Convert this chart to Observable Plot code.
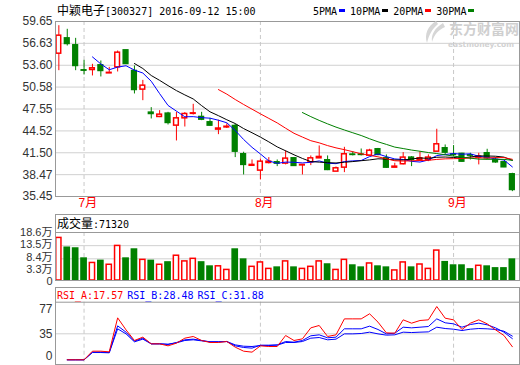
<!DOCTYPE html>
<html><head><meta charset="utf-8">
<script src="https://cdn.jsdelivr.net/npm/d3@7"></script>
<script src="https://cdn.jsdelivr.net/npm/@observablehq/plot@0.6"></script>
<style>
html,body{margin:0;padding:0;background:#fff;}
#wrap{position:relative;width:520px;height:365px;overflow:hidden;}
.abs{position:absolute;white-space:nowrap;line-height:14px;height:14px;}
.m{font-family:"DejaVu Sans Mono",monospace;font-size:10px;}
.c{font-family:"Noto Sans CJK SC",sans-serif;font-size:12px;}
.key{display:inline-block;width:6px;height:3px;margin:0 5px 0 2px;vertical-align:middle;position:relative;top:-1px;}
</style></head><body><div id="wrap"></div>
<script>
// ---------- data ----------
const stockName = "中颖电子", stockCode = "300327", stamp = "2016-09-12 15:00";
const opens  = [55.20,57.32,56.36,52.90,52.94,53.59,52.48,53.31,55.66,52.81,50.23,47.05,46.45,46.91,45.25,46.26,46.88,46.45,45.71,44.70,45.00,45.20,41.29,39.70,39.03,40.09,40.18,40.00,40.73,39.75,40.18,40.73,40.46,38.89,39.44,41.25,41.25,41.10,41.98,40.73,39.44,39.91,40.83,40.50,40.50,41.65,42.12,41.25,41.34,41.15,40.83,41.43,40.50,40.18,38.52];
const closes = [57.69,56.54,53.50,52.85,53.18,52.81,52.55,55.34,53.77,50.18,50.78,46.86,46.77,45.62,46.26,46.86,46.95,46.08,45.25,44.85,45.10,41.65,39.82,39.82,40.27,40.27,40.00,40.69,39.68,39.82,40.73,40.92,39.12,39.35,41.29,41.20,41.20,41.79,41.20,39.44,39.58,40.83,40.50,40.73,40.83,42.67,41.52,41.20,40.27,41.10,40.97,40.73,40.18,39.49,36.35];
const highs  = [59.07,58.57,57.32,54.28,53.73,54.19,53.31,55.57,55.66,53.50,51.51,47.74,47.32,47.09,47.09,47.05,48.20,47.09,46.26,46.00,45.50,45.44,41.57,40.50,40.64,40.83,40.50,41.75,40.80,39.85,41.06,42.44,41.06,39.53,42.25,41.65,42.02,41.98,42.10,41.20,40.05,41.52,40.97,41.65,41.20,44.75,42.58,42.49,41.43,41.43,41.43,41.98,40.83,40.27,38.66];
const lows   = [52.85,56.26,52.85,52.25,52.12,51.98,52.45,52.67,53.77,49.63,48.70,46.17,46.36,45.34,43.13,45.06,46.72,45.94,45.20,44.00,44.85,40.83,38.43,39.68,37.74,39.95,39.58,39.82,39.60,38.43,39.72,40.73,39.03,38.89,38.75,41.06,41.06,40.97,41.10,39.35,39.44,39.82,39.58,40.50,40.27,41.60,41.20,40.97,40.18,40.50,39.82,40.50,40.05,39.44,36.12];
// volume in 万 (10k)
const volumes = [16.5,12.7,12.4,8.5,6.8,7.6,6.1,13.4,8.5,12.0,8.0,7.6,6.1,7.0,9.6,7.4,8.4,7.0,5.4,5.5,4.1,12.0,8.1,5.3,7.0,4.5,5.0,7.4,5.0,4.5,5.3,7.4,6.2,4.1,8.0,5.8,5.0,6.6,5.4,5.0,3.9,7.0,5.0,6.2,4.5,11.6,7.1,5.8,5.8,4.3,5.7,5.4,4.7,4.7,8.1];
const lastVolume = 71320;
const rsiA = [null,0,0,0,11.6,11.6,10.7,56.5,40.3,26.0,30.5,21.5,21.5,18.8,22.4,29.1,31.4,26.0,23.3,23.3,24.6,17.0,11.6,10.3,18.8,17.9,17.9,32.7,26.0,28.2,43.0,46.2,31.4,33.6,55.1,55.1,55.1,61.9,50.7,36.3,35.8,53.8,49.3,52.9,53.8,71.7,56.0,53.8,40.8,49.3,53.8,48.4,40.3,32.7,17.57];
const rsiB = [null,0,0,0,10.3,10.3,9.8,45.7,37.2,25.1,29.1,21.5,21.5,20.6,23.3,26.9,27.8,26.0,24.2,24.2,24.6,18.8,16.6,15.7,19.7,19.7,20.1,24.6,23.7,26.0,32.3,33.6,29.6,30.5,41.7,41.7,41.7,45.3,40.8,34.9,35.8,43.9,43.0,43.9,44.8,55.1,49.8,48.4,43.9,47.5,49.3,47.1,43.0,37.2,28.48];
const rsiC = [null,0,0,0,9.8,9.8,9.4,41.7,34.9,24.2,27.8,21.5,21.5,21.0,22.8,26.0,26.9,25.5,24.2,24.2,24.6,20.1,18.3,17.9,19.2,19.2,19.7,23.3,23.3,24.6,29.1,30.0,26.9,27.8,34.9,34.9,35.4,37.2,34.9,33.2,33.6,37.2,36.7,37.2,37.6,43.9,42.1,41.2,39.4,41.2,42.1,41.7,40.8,38.5,31.88];
const maWindows = [5, 10, 20, 30];
const maLabels = ["5PMA", "10PMA", "20PMA", "30PMA"];
const priceTicks = [59.65, 56.63, 53.60, 50.58, 47.55, 44.52, 41.50, 38.47, 35.45];
const volTicks = [0, 3.3, 8.4, 13.5, 18.6];
const rsiTicks = [0, 35, 77];
const monthLabels = ["7月", "8月", "9月"];
const monthFirstIndex = [3, 24, 47];

// ---------- styles ----------
const UP = "#ff0000", DOWN = "#008000";
const maColors = ["#0000ff", "#000000", "#ff0000", "#008000"];
const FRAME = "#999999", GRID = "#d0d0d0", DASH = "#c8c8c8";
const volLabelShift = [0.5, -2.8, -1.3, -1.5, 0];
const bars = closes.map((c, i) => ({
  i, open: opens[i], close: c, high: highs[i], low: lows[i], vol: volumes[i],
  up: c >= opens[i], rsiA: rsiA[i], rsiB: rsiB[i], rsiC: rsiC[i]
}));
const baseStyle = {fontFamily: "'Liberation Sans', Arial, 'Noto Sans CJK SC', sans-serif", fontSize: "12px", overflow: "visible", background: "transparent", color: "#333"};
const X = {domain: [-0.4, 54.85], axis: null, label: null};
const col = d => d.up ? UP : DOWN;

const wrap = document.getElementById("wrap");
function put(el, left, top) {
  el.style.position = "absolute"; el.style.left = left + "px"; el.style.top = top + "px";
  wrap.appendChild(el); return el;
}
function html(str, left, top, cls) {
  const d = document.createElement("div");
  d.className = "abs " + (cls || "");
  d.innerHTML = str;
  return put(d, left, top);
}

// ---------- price panel ----------
const price = Plot.plot({
  width: 520, height: 213, marginLeft: 55, marginRight: 1, marginTop: 21, marginBottom: 17,
  x: X,
  y: {domain: [35.45, 59.65], axis: null, label: null},
  color: {type: "identity"},
  style: baseStyle,
  marks: [
    Plot.gridY(priceTicks, {stroke: GRID, strokeOpacity: 1}),
    Plot.ruleX(monthFirstIndex, {stroke: DASH, strokeDasharray: "4,3"}),
    Plot.ruleX(bars, {x: "i", y1: "low", y2: "high", stroke: col, strokeWidth: 1}),
    Plot.rect(bars, {x1: d => d.i - 0.28, x2: d => d.i + 0.28, y1: "open", y2: "close",
      fill: d => d.up ? "#ffffff" : DOWN, stroke: col, strokeWidth: 1.5}),
    ...maWindows.map((k, j) => Plot.lineY(bars, Plot.windowY({k, anchor: "end", strict: true},
      {x: "i", y: "close", stroke: maColors[j], strokeWidth: 1}))),
    Plot.frame({stroke: FRAME}),
    Plot.axisY(priceTicks, {tickSize: 0, tickPadding: 3, tickFormat: d => d.toFixed(2), fill: "#333", label: null}),
    Plot.axisX(monthFirstIndex, {tickSize: 0, tickPadding: 2, label: null, fill: "red", textAnchor: "start", dx: -5.5,
      tickFormat: d => monthLabels[monthFirstIndex.indexOf(d)]})
  ]
});
put(price, 0, 0);

// ---------- volume panel ----------
const vol = Plot.plot({
  width: 520, height: 67, marginLeft: 55, marginRight: 1, marginTop: 18, marginBottom: 1,
  x: X,
  y: {domain: [0, 18.6], axis: null, label: null},
  color: {type: "identity"},
  style: baseStyle,
  marks: [
    Plot.gridY([13.5, 8.4], {stroke: GRID, strokeOpacity: 1}),
    Plot.ruleX(monthFirstIndex, {stroke: DASH, strokeDasharray: "4,3"}),
    Plot.rect(bars, {x1: d => d.i - 0.31, x2: d => d.i + 0.31, y1: 0, y2: "vol",
      fill: d => d.up ? "#ffffff" : DOWN, stroke: col, strokeWidth: 1.5}),
    Plot.frame({stroke: FRAME, insetTop: -18}),
    Plot.frame({stroke: FRAME}),
    ...volTicks.map((t, k) => Plot.axisY([t], {tickSize: 0, tickPadding: 3, label: null, fill: "#333",
      fontSize: 11, dy: volLabelShift[k], tickFormat: d => d === 0 ? "0" : d.toFixed(1) + "万"}))
  ]
});
put(vol, 0, 214);

// ---------- RSI panel ----------
const rsi = Plot.plot({
  width: 520, height: 78, marginLeft: 55, marginRight: 1, marginTop: 14.7, marginBottom: 1,
  x: X,
  y: {domain: [0, 35], range: [72.3, 46.3], axis: null, label: null},
  style: baseStyle,
  marks: [
    Plot.gridY([35], {stroke: GRID, strokeOpacity: 1}),
    Plot.ruleX(monthFirstIndex, {stroke: DASH, strokeDasharray: "4,3"}),
    Plot.lineY(bars, {x: "i", y: "rsiC", stroke: "#0000ff", strokeWidth: 1}),
    Plot.lineY(bars, {x: "i", y: "rsiB", stroke: "#0000ff", strokeWidth: 1}),
    Plot.lineY(bars, {x: "i", y: "rsiA", stroke: "#ff0000", strokeWidth: 1}),
    Plot.frame({stroke: FRAME, insetTop: -14.7}),
    Plot.frame({stroke: FRAME}),
    Plot.axisY([rsiTicks[0]], {tickSize: 0, tickPadding: 3, label: null, fill: "#333", dy: -4}),
    Plot.axisY([rsiTicks[1]], {tickSize: 0, tickPadding: 3, label: null, fill: "#333"}),
    Plot.axisY([rsiTicks[2]], {tickSize: 0, tickPadding: 3, label: null, fill: "#333", dy: 7})
  ]
});
put(rsi, 0, 287);

// ---------- texts ----------
html(`<span class="c">${stockName}</span><span class="m">[${stockCode}] ${stamp}</span>`, 57, 3);
html(maLabels.map((l, j) => `<span class="m">${l}</span><span class="key" style="background:${maColors[j]}"></span>`).join(""), 313, 3);
html(`<span class="c">成交量</span><span class="m">:${lastVolume}</span>`, 57, 216);
const last = bars.length - 1;
html(`<span class="m" style="color:#ff0000">RSI_A:${rsiA[last].toFixed(2)}</span> <span class="m" style="color:#0000ff">RSI_B:${rsiB[last].toFixed(2)}</span> <span class="m" style="color:#0000ff">RSI_C:${rsiC[last].toFixed(2)}</span>`, 57, 287);

// watermark
html(`<span style="font-family:'Noto Sans CJK SC';font-weight:bold;font-size:14px;color:#cfcfcf">东方财富网</span>`, 449, 21);
html(`<span style="font-family:'DejaVu Sans';font-weight:bold;font-size:7.5px;color:#d2d2d2">eastmoney.com</span>`, 448, 35);
const ns = "http://www.w3.org/2000/svg";
const logo = document.createElementNS(ns, "svg");
logo.setAttribute("width", "22"); logo.setAttribute("height", "24");
logo.innerHTML = '<path d="M13 1 C5 6, 1 14, 4 23 C6 15, 9 9, 15 4 Z" fill="#d6d6d6"/><path d="M20 3 C12 8, 8 14, 9 22 C11 15, 15 10, 22 7 Z" fill="#d6d6d6"/>';
put(logo, 423, 20);
</script>
</body></html>
